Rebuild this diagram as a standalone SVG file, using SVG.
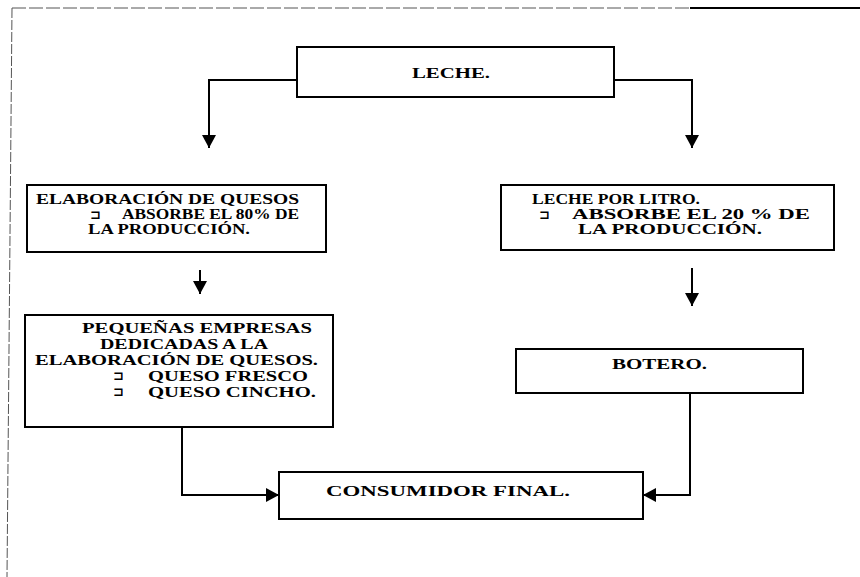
<svg xmlns="http://www.w3.org/2000/svg" width="860" height="577" viewBox="0 0 860 577">
<style>
.box{fill:#fff;stroke:#000;stroke-width:2}
.t{font-family:"Liberation Serif","Times New Roman",serif;font-weight:bold;font-size:15px;fill:#000}
.b{font-family:"DejaVu Sans",sans-serif;font-size:13px;font-weight:bold;fill:#000}
.ln{fill:none;stroke:#000;stroke-width:2}
.frame{fill:none;stroke:#555;stroke-width:1}
</style>
<defs>
<marker id="ah" markerUnits="userSpaceOnUse" markerWidth="13" markerHeight="14" refX="13" refY="7" orient="auto">
<path d="M0,0 L13,7 L0,14 Z" fill="#000"/>
</marker>
</defs>
<g id="frame">
<path class="frame" d="M12,8 H860" stroke-dasharray="14 3"/>
<path d="M690,8 H860" stroke="#000" stroke-width="2"/>
<path class="frame" d="M12,8 L7,577" stroke-dasharray="10 2"/>
</g>
<g id="connectors">
<path class="ln" d="M297,80 H209 V148" marker-end="url(#ah)"/>
<path class="ln" d="M614,80 H692 V148" marker-end="url(#ah)"/>
<path class="ln" d="M200,270 V294" marker-end="url(#ah)"/>
<path class="ln" d="M692,268 V306" marker-end="url(#ah)"/>
<path class="ln" d="M182,427 V495 H279" marker-end="url(#ah)"/>
<path class="ln" d="M690,393 V495 H643" marker-end="url(#ah)"/>
</g>
<g id="leche">
<rect class="box" x="297" y="47" width="317" height="50"/>
<text class="t" x="412" y="78" textLength="78" lengthAdjust="spacingAndGlyphs">LECHE.</text>
</g>
<g id="elaboracion">
<rect class="box" x="27" y="185" width="299" height="67"/>
<text class="t" x="36" y="204" textLength="263" lengthAdjust="spacingAndGlyphs">ELABORACIÓN DE QUESOS</text>
<text class="b" x="90" y="219">⊐</text>
<text class="t" x="122" y="219" textLength="177" lengthAdjust="spacingAndGlyphs">ABSORBE EL 80% DE</text>
<text class="t" x="88" y="234" textLength="162" lengthAdjust="spacingAndGlyphs">LA PRODUCCIÓN.</text>
</g>
<g id="litro">
<rect class="box" x="501" y="185" width="333" height="65"/>
<text class="t" x="532" y="204" textLength="168" lengthAdjust="spacingAndGlyphs">LECHE POR LITRO.</text>
<text class="b" x="539" y="219">⊐</text>
<text class="t" x="572" y="219" textLength="238" lengthAdjust="spacingAndGlyphs">ABSORBE EL 20 % DE</text>
<text class="t" x="578" y="234" textLength="184" lengthAdjust="spacingAndGlyphs">LA PRODUCCIÓN.</text>
</g>
<g id="pequenas">
<rect class="box" x="25" y="315" width="308" height="112"/>
<text class="t" x="82" y="333" textLength="230" lengthAdjust="spacingAndGlyphs">PEQUEÑAS EMPRESAS</text>
<text class="t" x="100" y="349" textLength="168" lengthAdjust="spacingAndGlyphs">DEDICADAS A LA</text>
<text class="t" x="35" y="365" textLength="283" lengthAdjust="spacingAndGlyphs">ELABORACIÓN DE QUESOS.</text>
<text class="b" x="113" y="380">⊐</text>
<text class="t" x="148" y="381" textLength="160" lengthAdjust="spacingAndGlyphs">QUESO FRESCO</text>
<text class="b" x="113" y="396">⊐</text>
<text class="t" x="148" y="397" textLength="168" lengthAdjust="spacingAndGlyphs">QUESO CINCHO.</text>
</g>
<g id="botero">
<rect class="box" x="516" y="349" width="287" height="44"/>
<text class="t" x="612" y="369" textLength="95" lengthAdjust="spacingAndGlyphs">BOTERO.</text>
</g>
<g id="consumidor">
<rect class="box" x="279" y="472" width="364" height="47"/>
<text class="t" x="326" y="496" textLength="244" lengthAdjust="spacingAndGlyphs">CONSUMIDOR FINAL.</text>
</g>
</svg>
